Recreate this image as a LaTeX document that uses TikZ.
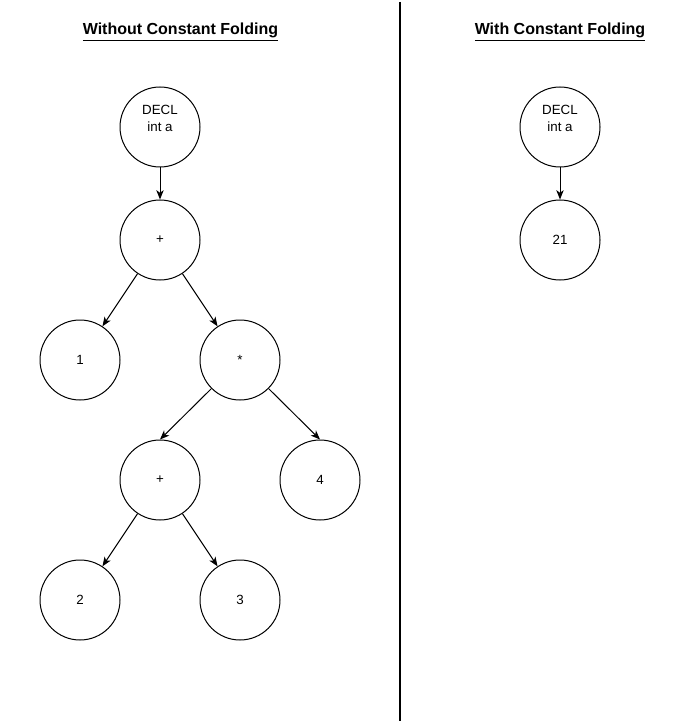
\documentclass[tikz,border=0pt]{standalone}
\usepackage{fontspec}
\setmainfont{Liberation Sans}
\usetikzlibrary{positioning, arrows.meta}

\newcommand{\twoline}[2]{\raisebox{3pt}[0pt][0pt]{\begin{tabular}{@{}c@{}}#1\\[0.5pt]#2\end{tabular}}}

\tikzset{
    treenode/.style={circle, draw, line width=0.75pt, minimum size=60pt, inner sep=0pt, align=center, font=\fontsize{10}{12}\selectfont},
    treeedge/.style={-{Stealth[length=7pt, width=5.5pt, inset=2pt]}, line width=0.75pt},
    heading/.style={font=\fontsize{12}{14}\selectfont\bfseries},
}

\begin{document}
\begin{tikzpicture}[x=0.75pt, y=-0.75pt]
    \useasboundingbox (0,0) rectangle (681,723);

    % headings
    \node[heading] (titleA) at (180.5,32) {\underline{Without Constant Folding}};
    \node[heading] (titleB) at (560,32) {\underline{With Constant Folding}};

    % divider
    \coordinate (topend) at (400,2);
    \coordinate (botend) at (400,721);
    \draw[line width=1.5pt] (topend) -- (botend);

    % left tree
    \node[treenode] (declA) at (160,127) {\twoline{DECL}{int a}};
    \node[treenode] (plusA) at (160,240) {+};
    \node[treenode] (one) at (80,360) {1};
    \node[treenode] (times) at (240,360) {*};
    \node[treenode] (plusB) at (160,480) {+};
    \node[treenode] (four) at (320,480) {4};
    \node[treenode] (two) at (80,600) {2};
    \node[treenode] (three) at (240,600) {3};

    \draw[treeedge] (declA) -- (plusA);
    \draw[treeedge] (plusA) -- (one);
    \draw[treeedge] (plusA) -- (times);
    \draw[treeedge] (times.south west) -- (plusB.north);
    \draw[treeedge] (times.south east) -- (four.north);
    \draw[treeedge] (plusB) -- (two);
    \draw[treeedge] (plusB) -- (three);

    % right tree
    \node[treenode] (declB) at (560,127) {\twoline{DECL}{int a}};
    \node[treenode] (folded) at (560,240) {21};

    \draw[treeedge] (declB) -- (folded);
\end{tikzpicture}
\end{document}
